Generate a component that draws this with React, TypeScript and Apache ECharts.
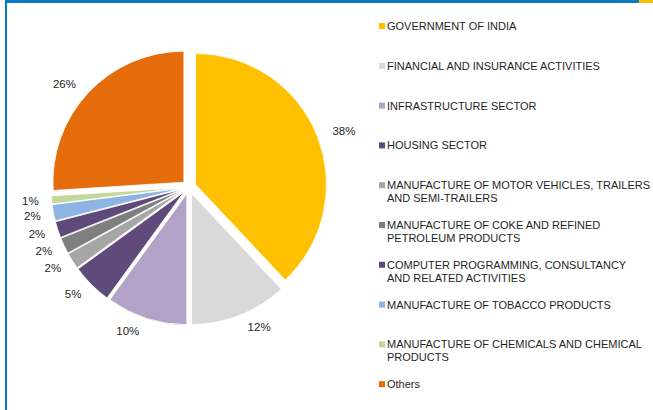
import React, { useEffect, useRef } from "react";
import * as echarts from "echarts";

const categories = [
  "GOVERNMENT OF INDIA",
  "FINANCIAL AND INSURANCE ACTIVITIES",
  "INFRASTRUCTURE SECTOR",
  "HOUSING SECTOR",
  "MANUFACTURE OF MOTOR VEHICLES, TRAILERS\nAND SEMI-TRAILERS",
  "MANUFACTURE OF COKE AND REFINED\nPETROLEUM PRODUCTS",
  "COMPUTER PROGRAMMING, CONSULTANCY\nAND RELATED ACTIVITIES",
  "MANUFACTURE OF TOBACCO PRODUCTS",
  "MANUFACTURE OF CHEMICALS AND CHEMICAL\nPRODUCTS",
  "Others",
];
const values = [38, 12, 10, 5, 2, 2, 2, 2, 1, 26];
const colors = [
  "#FFC000",
  "#D9D9D9",
  "#B3A2C7",
  "#604A7B",
  "#A6A6A6",
  "#7F7F7F",
  "#5F497A",
  "#8EB4E3",
  "#C3D69B",
  "#E46C0A",
];

const FONT = "'Liberation Sans', Arial, sans-serif";
const TEXT_COLOR = "#1f1f1f";

export default function App() {
  const ref = useRef<HTMLDivElement>(null);
  useEffect(() => {
    if (!ref.current) return;
    const chart = echarts.init(ref.current, undefined, { renderer: "svg" });
    const rich: Record<string, any> = {
      t: { fontSize: 11, fontFamily: FONT, color: TEXT_COLOR, lineHeight: 13 },
      g: { width: 2, height: 6, lineHeight: 13 },
      i: { width: 8, height: 6, lineHeight: 13 },
    };
    colors.forEach((c, k) => {
      rich["m" + k] = { width: 6, height: 6, backgroundColor: c, lineHeight: 13 };
    });
    chart.setOption({
      animation: false,
      backgroundColor: "#ffffff",
      graphic: [
        { type: "rect", shape: { x: 5, y: 0, width: 634, height: 3 }, style: { fill: "#0A7BC1" } },
        { type: "rect", shape: { x: 639, y: 0, width: 14, height: 3 }, style: { fill: "#FFC000" } },
        { type: "rect", shape: { x: 5, y: 0, width: 2, height: 410 }, style: { fill: "#0A7BC1" } },
      ],
      legend: {
        orient: "vertical",
        left: 373,
        top: 18.5,
        padding: 0,
        itemWidth: 0,
        itemHeight: 26,
        itemGap: 11.8,
        icon: "rect",
        itemStyle: { opacity: 0 },
        selectedMode: false,
        data: categories,
        formatter: (name: string) => {
          const k = categories.indexOf(name);
          const lines = name.split("\n");
          return `{m${k}| }{g| }{t|${lines[0]}}\n{i| }{t|${lines[1] ?? " "}}`;
        },
        textStyle: { fontSize: 11, fontFamily: FONT, color: TEXT_COLOR, lineHeight: 13, rich },
      },
      series: [
        {
          type: "pie",
          center: [189, 187],
          radius: 131,
          startAngle: 90,
          clockwise: true,
          selectedMode: "multiple",
          selectedOffset: 7,
          avoidLabelOverlap: true,
          label: {
            show: true,
            position: "outside",
            formatter: "{c}%",
            fontSize: 11.5,
            fontFamily: FONT,
            color: TEXT_COLOR,
            distanceToLabelLine: 3,
          },
          labelLine: { show: false, length: 13, length2: 0 },
          itemStyle: { borderColor: "#ffffff", borderWidth: 0.8 },
          select: {
            itemStyle: { borderColor: "#ffffff", borderWidth: 0.8 },
            label: { color: TEXT_COLOR },
          },
          emphasis: { disabled: true },
          data: categories.map((n, k) => ({
            name: n,
            value: values[k],
            selected: true,
            itemStyle: { color: colors[k] },
          })),
        },
      ],
    });
    return () => chart.dispose();
  }, []);
  return (
    <div
      ref={ref}
      style={{ position: "fixed", left: 0, top: 0, width: 653, height: 410 }}
    />
  );
}
